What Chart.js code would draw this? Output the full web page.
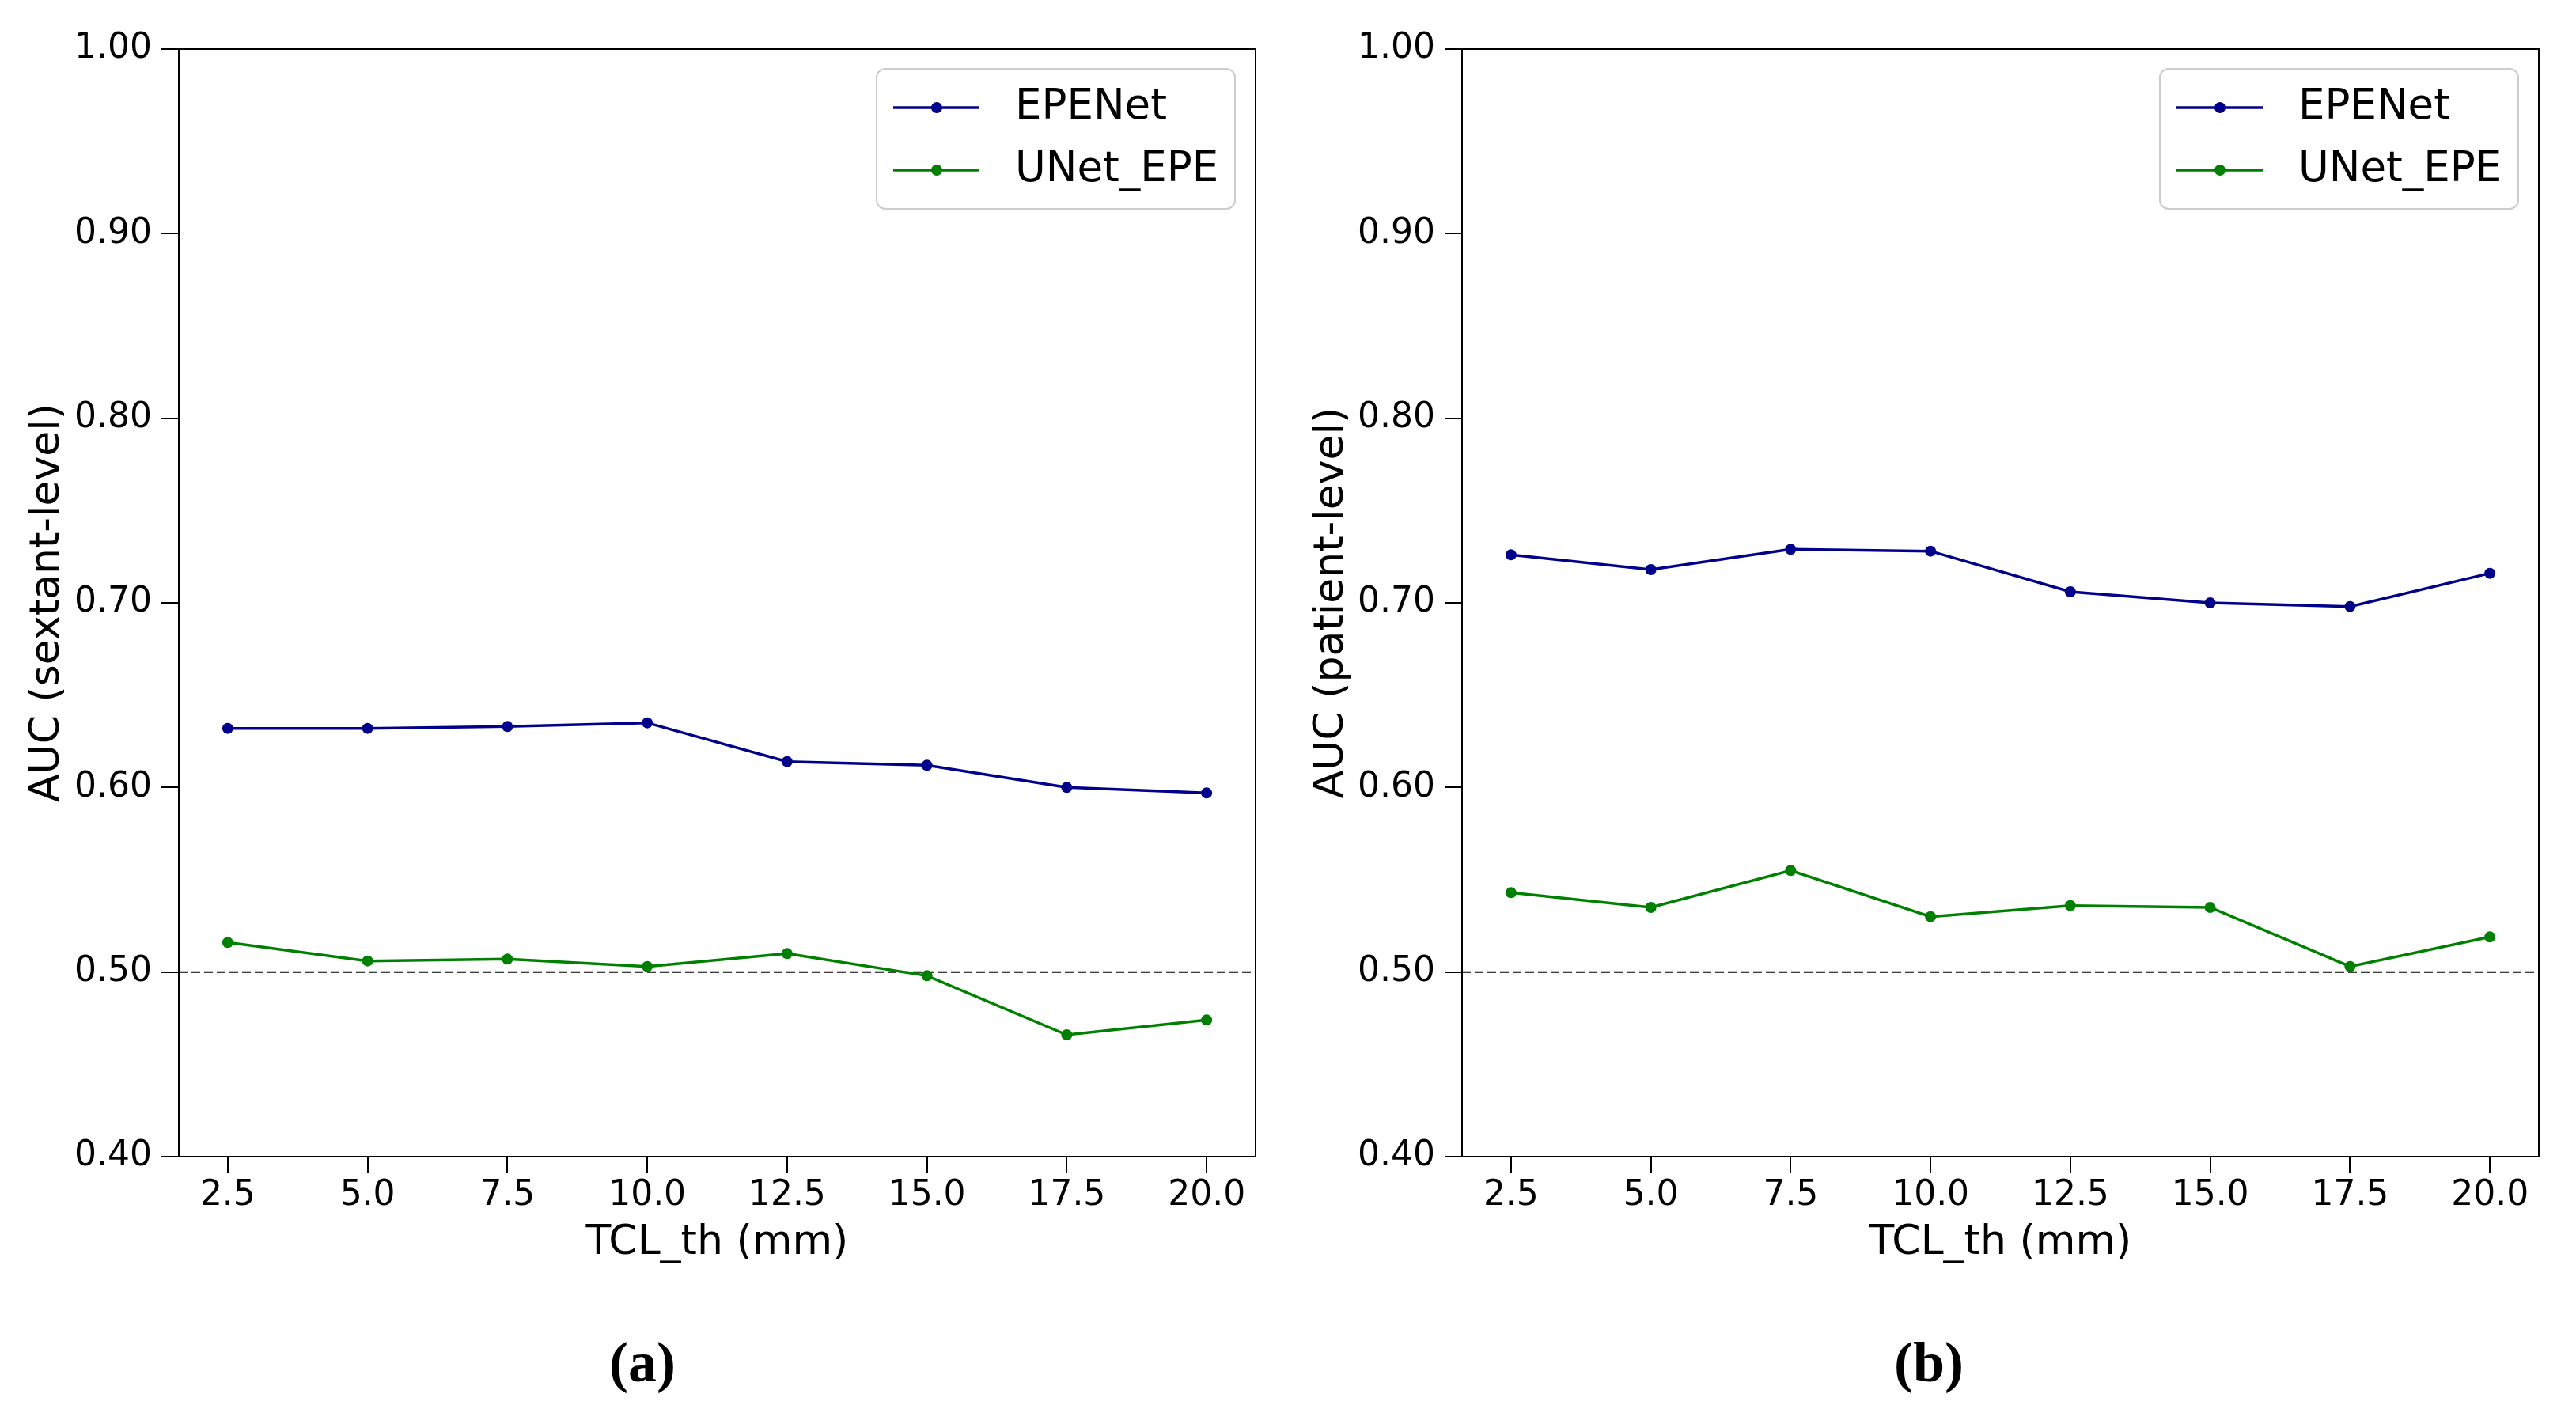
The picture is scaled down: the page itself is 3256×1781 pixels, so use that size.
<!DOCTYPE html>
<html><head><meta charset="utf-8">
<script src="https://cdn.jsdelivr.net/npm/chart.js@4.4.1/dist/chart.umd.min.js"></script>
<style>
html,body{margin:0;padding:0;background:#fff;width:3256px;height:1781px;overflow:hidden;}
.panel{position:absolute;top:0;width:1628px;height:1640px;}
.cap{position:absolute;top:1680px;width:200px;text-align:center;font-family:"Liberation Serif","DejaVu Serif",serif;font-weight:bold;font-size:72px;line-height:84px;color:#000;}
</style></head><body>
<div class="panel" style="left:0"><canvas id="c1"></canvas></div>
<div class="panel" style="left:1628px"><canvas id="c2"></canvas></div>
<div class="cap" style="left:712px">(a)</div>
<div class="cap" style="left:2338px">(b)</div>
<script>
const thresholds = [2.5, 5.0, 7.5, 10.0, 12.5, 15.0, 17.5, 20.0];
const yTicks = [0.4, 0.5, 0.6, 0.7, 0.8, 0.9, 1.0];
const seriesNames = ['EPENet', 'UNet_EPE'];
const seriesColors = ['#00008b', '#008000'];
const sextantEPENet = [0.632, 0.632, 0.633, 0.635, 0.614, 0.612, 0.600, 0.597];
const sextantUNet   = [0.516, 0.506, 0.507, 0.503, 0.510, 0.498, 0.466, 0.474];
const patientEPENet = [0.726, 0.718, 0.729, 0.728, 0.706, 0.700, 0.698, 0.716];
const patientUNet   = [0.543, 0.535, 0.555, 0.530, 0.536, 0.535, 0.503, 0.519];
const chanceLevel = 0.5;
const xRange = [1.625, 20.875];
const yRange = [0.4, 1.0];

const FONT = 'DejaVu Sans';

const chancePlugin = {
  id: 'chance',
  beforeDatasetsDraw(chart) {
    const {ctx, chartArea} = chart;
    const y = chart.scales.y.getPixelForValue(chanceLevel);
    ctx.save();
    ctx.strokeStyle = '#000';
    ctx.lineWidth = 2;
    ctx.setLineDash([11, 5]);
    ctx.beginPath();
    ctx.moveTo(chartArea.left, y);
    ctx.lineTo(chartArea.right, y);
    ctx.stroke();
    ctx.restore();
  }
};

const framePlugin = {
  id: 'frame',
  afterDraw(chart) {
    const {ctx, chartArea} = chart;
    ctx.save();
    ctx.strokeStyle = '#000';
    ctx.lineWidth = 2;
    ctx.strokeRect(chartArea.left, chartArea.top, chartArea.right - chartArea.left, chartArea.bottom - chartArea.top);
    ctx.restore();
  }
};

const legendPlugin = {
  id: 'boxLegend',
  afterDraw(chart) {
    const {ctx, chartArea} = chart;
    const boxW = 453, boxH = 177, r = 11;
    const x0 = chartArea.right - 26 - boxW, y0 = chartArea.top + 25;
    ctx.save();
    ctx.beginPath();
    ctx.roundRect(x0, y0, boxW, boxH, r);
    ctx.fillStyle = 'rgba(255,255,255,0.8)';
    ctx.fill();
    ctx.strokeStyle = '#cccccc';
    ctx.lineWidth = 2;
    ctx.stroke();
    chart.data.datasets.forEach((ds, i) => {
      const y = y0 + 49 + i * 79;
      ctx.strokeStyle = ds.borderColor;
      ctx.lineWidth = 3.5;
      ctx.beginPath();
      ctx.moveTo(x0 + 21, y);
      ctx.lineTo(x0 + 130, y);
      ctx.stroke();
      ctx.fillStyle = ds.borderColor;
      ctx.beginPath();
      ctx.arc(x0 + 76, y, 7, 0, Math.PI * 2);
      ctx.fill();
      ctx.fillStyle = '#000';
      ctx.font = '53px "' + FONT + '"';
      ctx.textAlign = 'left';
      ctx.textBaseline = 'middle';
      ctx.fillText(ds.label, x0 + 175, y);
    });
    ctx.restore();
  }
};

function makeChart(id, yTitle, epe, unet, geom) {
  const series = [epe, unet];
  return new Chart(document.getElementById(id), {
    type: 'line',
    data: {
      datasets: series.map((vals, k) => ({
        label: seriesNames[k],
        data: thresholds.map((t, i) => ({x: t, y: vals[i]})),
        borderColor: seriesColors[k],
        backgroundColor: seriesColors[k],
        pointBackgroundColor: seriesColors[k],
        borderWidth: 3.5,
        pointRadius: 7,
        pointBorderWidth: 0,
        tension: 0,
        fill: false
      }))
    },
    options: {
      responsive: true,
      maintainAspectRatio: false,
      animation: false,
      layout: {padding: {top: 62, right: geom.padRight, bottom: 0, left: 0}},
      plugins: {legend: {display: false}, tooltip: {enabled: false}},
      scales: {
        x: {
          type: 'linear', min: xRange[0], max: xRange[1],
          afterBuildTicks: s => { s.ticks = thresholds.map(v => ({value: v})); },
          afterFit: s => { s.height = 178; },
          grid: {drawOnChartArea: false, drawTicks: true, tickLength: 21, lineWidth: 2, tickWidth: 2, color: '#000', tickColor: '#000'},
          border: {display: true, color: '#000', width: 2},
          ticks: {color: '#000', font: {family: FONT, size: 44, lineHeight: 1}, padding: 7, maxRotation: 0, autoSkip: false,
                  callback: v => Number(v).toFixed(1)},
          title: {display: true, text: 'TCL_th (mm)', color: '#000', font: {family: FONT, size: 52, lineHeight: 1}, padding: {top: 0, bottom: 43}}
        },
        y: {
          min: yRange[0], max: yRange[1],
          afterBuildTicks: s => { s.ticks = yTicks.map(v => ({value: v})); },
          afterFit: s => { s.width = geom.yWidth; },
          grid: {drawOnChartArea: false, drawTicks: true, tickLength: 22, lineWidth: 2, tickWidth: 2, color: '#000', tickColor: '#000'},
          border: {display: true, color: '#000', width: 2},
          ticks: {color: '#000', font: {family: FONT, size: 44, lineHeight: 1}, padding: 12, autoSkip: false,
                  callback: v => Number(v).toFixed(2)},
          title: {display: true, text: yTitle, color: '#000', font: {family: FONT, size: 52, lineHeight: 1}, padding: {top: geom.titlePad, bottom: 0}}
        }
      }
    },
    plugins: [chancePlugin, framePlugin, legendPlugin]
  });
}

makeChart('c1', 'AUC (sextant-level)', sextantEPENet, sextantUNet, {yWidth: 226, padRight: 41, titlePad: 34});
makeChart('c2', 'AUC (patient-level)', patientEPENet, patientUNet, {yWidth: 220, padRight: 47, titlePad: 29});
</script>
</body></html>
